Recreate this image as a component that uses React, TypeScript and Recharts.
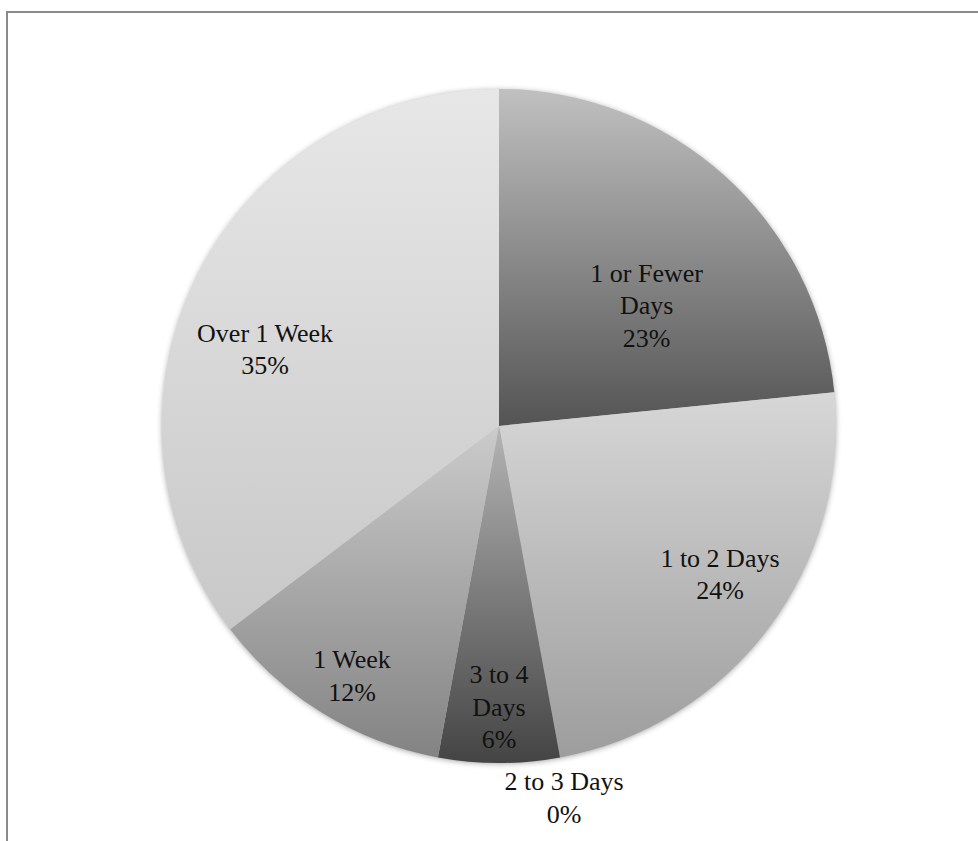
import { Cell, Pie, PieChart } from "recharts";

const categories = [
  "1 or Fewer Days",
  "1 to 2 Days",
  "2 to 3 Days",
  "3 to 4 Days",
  "1 Week",
  "Over 1 Week",
];
const shares = [23.4, 23.7, 0, 5.8, 11.8, 35.3];

const data = categories.map((name, i) => ({ name, value: shares[i] }));

// top / bottom shade of each slice's vertical gradient
const SHADES: Record<string, [string, string]> = {
  "1 or Fewer Days": ["#c0c0c0", "#545454"],
  "1 to 2 Days": ["#d7d7d7", "#9d9d9d"],
  "2 to 3 Days": ["#cccccc", "#888888"],
  "3 to 4 Days": ["#b4b4b4", "#444444"],
  "1 Week": ["#cbcbcb", "#838383"],
  "Over 1 Week": ["#e7e7e7", "#c8c8c8"],
};

// label lines and where they sit: fraction of the radius, angle nudge (deg)
const LABEL_LINES: Record<string, string[]> = {
  "1 or Fewer Days": ["1 or Fewer", "Days"],
  "3 to 4 Days": ["3 to 4", "Days"],
};
const LABEL_POS: Record<string, [number, number]> = {
  "1 or Fewer Days": [0.565, 8.7],
  "1 to 2 Days": [0.79, -3],
  "2 to 3 Days": [1.12, 0.5],
  "3 to 4 Days": [0.834, 0],
  "1 Week": [0.86, -1.2],
  "Over 1 Week": [0.73, -8.4],
};

const LINE_HEIGHT = 32.5;
// chart margin is 5px, so these land the centre at (499, 426) on the page
const CX = 494;
const CY = 421;

function SliceLabel(props: any) {
  const { cx, cy, midAngle, outerRadius, name, percent } = props;
  const [frac, nudge] = LABEL_POS[name] ?? [0.7, 0];
  const fromTop = ((90 - midAngle + nudge) * Math.PI) / 180;
  const r = outerRadius * frac;
  const x = cx + r * Math.sin(fromTop);
  const y = cy - r * Math.cos(fromTop);
  const lines = [...(LABEL_LINES[name] ?? [name]), `${Math.round(percent * 100)}%`];
  const top = y - ((lines.length - 1) * LINE_HEIGHT) / 2;
  return (
    <text
      x={x}
      y={top}
      textAnchor="middle"
      fill="#111"
      fontSize={26}
      fontFamily="'Liberation Serif', serif"
    >
      {lines.map((line, i) => (
        <tspan key={i} x={x} y={top + i * LINE_HEIGHT} dominantBaseline="central">
          {line}
        </tspan>
      ))}
    </text>
  );
}

export default function App() {
  return (
    <div
      style={{
        position: "absolute",
        left: 0,
        top: 0,
        width: 978,
        height: 841,
        overflow: "hidden",
        background: "#fff",
      }}
    >
      <div
        style={{
          position: "absolute",
          left: 6,
          top: 11,
          width: 1000,
          height: 900,
          borderLeft: "2px solid #8a8a8a",
          borderTop: "2px solid #8a8a8a",
        }}
      />
      <div style={{ position: "absolute", left: 0, top: 0 }}>
        <PieChart width={978} height={841}>
          <defs>
            {categories.map((c, i) => (
              <linearGradient key={c} id={`shade-${i}`} x1="0" y1="0" x2="0" y2="1">
                <stop offset="0%" stopColor={SHADES[c][0]} />
                <stop offset="100%" stopColor={SHADES[c][1]} />
              </linearGradient>
            ))}
            <filter id="pie-shadow" x="-10%" y="-10%" width="120%" height="120%">
              <feDropShadow dx="0" dy="1" stdDeviation="3" floodColor="#000" floodOpacity="0.45" />
            </filter>
          </defs>
          <Pie
            data={[{ name: "all", value: 1 }]}
            dataKey="value"
            cx={CX}
            cy={CY}
            outerRadius={336}
            startAngle={90}
            endAngle={-270}
            stroke="none"
            isAnimationActive={false}
          >
            <Cell fill="#bbb" filter="url(#pie-shadow)" />
          </Pie>
          <Pie
            data={data}
            dataKey="value"
            nameKey="name"
            cx={CX}
            cy={CY}
            outerRadius={337}
            startAngle={90}
            endAngle={-270}
            stroke="none"
            labelLine={false}
            label={SliceLabel}
            isAnimationActive={false}
          >
            {data.map((d, i) => (
              <Cell key={d.name} fill={`url(#shade-${i})`} />
            ))}
          </Pie>
        </PieChart>
      </div>
    </div>
  );
}
